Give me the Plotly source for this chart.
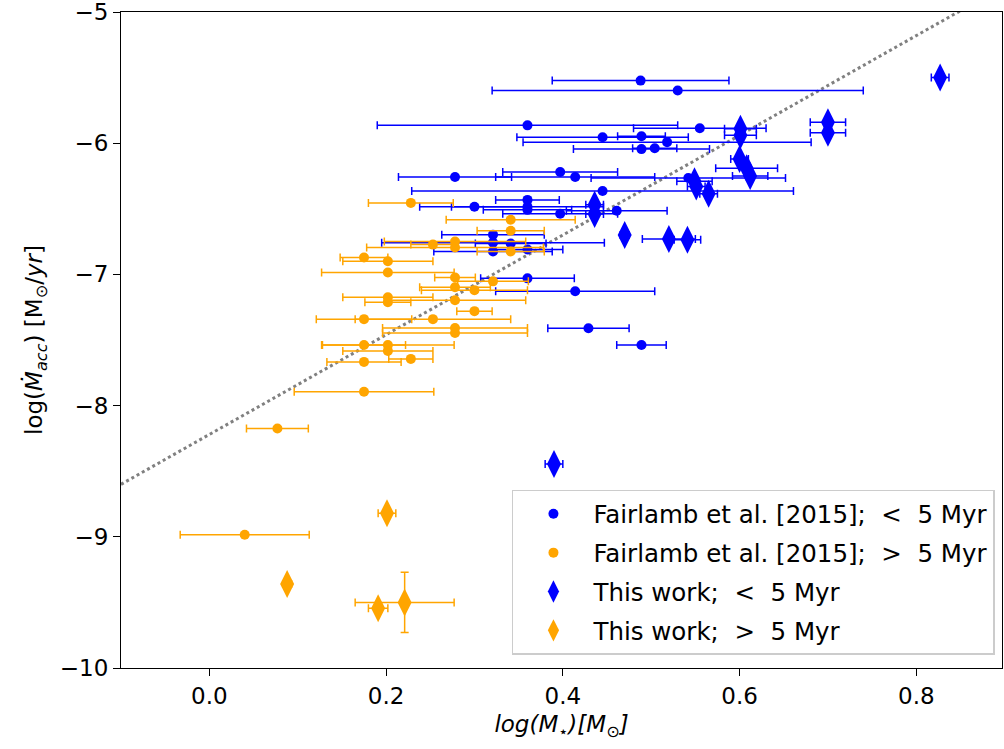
import plotly.graph_objects as go

# Fairlamb et al. [2015], < 5 Myr
fy_x = [0.488, 0.530, 0.360, 0.555, 0.445, 0.489, 0.518, 0.489, 0.504,
        0.397, 0.414, 0.542, 0.278, 0.445, 0.360, 0.300, 0.360, 0.360,
        0.397, 0.461, 0.321, 0.321, 0.341, 0.321, 0.360, 0.360, 0.414,
        0.429, 0.489]
fy_y = [-5.523, -5.598, -5.864, -5.886, -5.955, -5.947, -5.992, -6.045, -6.038,
        -6.220, -6.258, -6.265, -6.258, -6.364, -6.432, -6.485, -6.485, -6.508,
        -6.538, -6.515, -6.697, -6.758, -6.765, -6.826, -6.810, -7.030, -7.129,
        -7.410, -7.538]
fy_xerr = [0.100, 0.210, 0.170, 0.075, 0.097, 0.027, 0.163, 0.077, 0.025,
           0.065, 0.090, 0.110, 0.064, 0.216, 0.036, 0.062, 0.086, 0.050,
           0.065, 0.057, 0.058, 0.126, 0.040, 0.067, 0.040, 0.053, 0.090,
           0.046, 0.028]

# Fairlamb et al. [2015], > 5 Myr
fo_x = [0.228, 0.253, 0.278, 0.278, 0.341, 0.341, 0.341, 0.175, 0.202, 0.202,
        0.278, 0.321, 0.278, 0.300, 0.202, 0.202, 0.278, 0.300, 0.175, 0.253,
        0.278, 0.278, 0.175, 0.202, 0.202, 0.228, 0.175, 0.175, 0.077, 0.040]
fo_y = [-6.455, -6.773, -6.750, -6.795, -6.583, -6.667, -6.826, -6.871, -6.900, -6.985,
        -7.023, -7.053, -7.098, -7.120, -7.174, -7.212, -7.197, -7.280, -7.341, -7.341,
        -7.409, -7.447, -7.538, -7.538, -7.583, -7.644, -7.667, -7.894, -8.174, -8.985]
fo_xerr = [0.048, 0.025, 0.080, 0.100, 0.073, 0.038, 0.038, 0.027, 0.051, 0.075,
           0.023, 0.040, 0.040, 0.060, 0.051, 0.026, 0.080, 0.020, 0.054, 0.088,
           0.082, 0.082, 0.047, 0.075, 0.051, 0.025, 0.042, 0.079, 0.035, 0.073]

# This work, < 5 Myr
ty_x = [0.827, 0.601, 0.601, 0.700, 0.700, 0.600, 0.608, 0.612, 0.549, 0.551,
        0.565, 0.436, 0.436, 0.470, 0.520, 0.541, 0.390]
ty_y = [-5.50, -5.89, -5.94, -5.84, -5.92, -6.12, -6.19, -6.25, -6.29, -6.33,
        -6.385, -6.47, -6.54, -6.70, -6.73, -6.735, -8.445]
ty_xerr = [0.010, 0.018, 0.018, 0.020, 0.020, 0.010, 0.035, 0.020, 0.020, 0.010,
           0.010, 0.010, 0.010, 0.005, 0.030, 0.015, 0.010]
ty_yerr = [0.03, 0.02, 0.02, 0.02, 0.02, 0.02, 0.02, 0.02, 0.02, 0.02,
           0.02, 0.03, 0.03, 0.02, 0.02, 0.02, 0.03]

# This work, > 5 Myr
to_x = [0.201, 0.088, 0.191, 0.221]
to_y = [-8.82, -9.36, -9.545, -9.50]
to_xerr = [0.010, 0.005, 0.011, 0.056]
to_yerr = [0.03, 0.03, 0.03, 0.23]

# dotted relation
fit_slope = 3.8
fit_intercept = -8.22
fit_x = [-0.1, 0.9]
fit_y = [fit_slope * v + fit_intercept for v in fit_x]

BLUE = "#0000ff"
ORANGE = "#ffa500"
FONT = "DejaVu Sans"

fig = go.Figure()

fig.add_trace(go.Scatter(x=fit_x, y=fit_y, mode="lines",
                         line=dict(color="gray", width=3, dash="dot"),
                         showlegend=False, hoverinfo="skip"))

def ex(arr, color):
    return dict(type="data", array=arr, color=color, thickness=1.5, width=4, visible=True)

fig.add_trace(go.Scatter(x=fy_x, y=fy_y, mode="markers", legendgroup="a",
                         name="Fairlamb et al. [2015];  <  5 Myr",
                         marker=dict(color=BLUE, size=10, symbol="circle"),
                         error_x=ex(fy_xerr, BLUE)))
fig.add_trace(go.Scatter(x=fo_x, y=fo_y, mode="markers", legendgroup="b",
                         name="Fairlamb et al. [2015];  >  5 Myr",
                         marker=dict(color=ORANGE, size=10, symbol="circle"),
                         error_x=ex(fo_xerr, ORANGE)))
fig.add_trace(go.Scatter(x=ty_x, y=ty_y, mode="markers", legendgroup="c",
                         name="This work;  <  5 Myr",
                         marker=dict(color=BLUE, size=20, symbol="diamond-tall"),
                         error_x=ex(ty_xerr, BLUE), error_y=ex(ty_yerr, BLUE)))
fig.add_trace(go.Scatter(x=to_x, y=to_y, mode="markers", legendgroup="d",
                         name="This work;  >  5 Myr",
                         marker=dict(color=ORANGE, size=20, symbol="diamond-tall"),
                         error_x=ex(to_xerr, ORANGE), error_y=ex(to_yerr, ORANGE)))

x_ticks = [0.0, 0.2, 0.4, 0.6, 0.8]
y_ticks = [-10, -9, -8, -7, -6, -5]

fig.update_layout(
    width=1004, height=749,
    margin=dict(l=121, r=2, t=12, b=81, autoexpand=False),
    paper_bgcolor="white", plot_bgcolor="white",
    font=dict(family=FONT, size=23, color="black"),
    legend=dict(x=0.992, y=0.02, xanchor="right", yanchor="bottom",
                bordercolor="#cccccc", borderwidth=1.5, bgcolor="rgba(255,255,255,0.8)",
                font=dict(family=FONT, size=24.5), itemsizing="trace",
                traceorder="grouped", tracegroupgap=4, itemwidth=70),
    showlegend=True,
)
fig.update_xaxes(range=[-0.1, 0.897], tickvals=x_ticks,
                 ticktext=[f"{v:.1f}" for v in x_ticks],
                 tickfont=dict(family=FONT, size=23), automargin=False,
                 showgrid=False, zeroline=False, showline=True, linecolor="black",
                 linewidth=1.2, mirror=True, ticks="outside", ticklen=7, tickcolor="black",
                 ticklabeloverflow="allow",
                 title=dict(text="<i>log(M<sub>⋆</sub>)[M<sub>⊙</sub>]</i>",
                            font=dict(family=FONT, size=23), standoff=8))
fig.update_yaxes(range=[-10, -5], tickvals=y_ticks,
                 ticktext=[str(v).replace("-", "\u2212") for v in y_ticks],
                 tickfont=dict(family=FONT, size=23), automargin=False,
                 showgrid=False, zeroline=False, showline=True, linecolor="black",
                 linewidth=1.2, mirror=True, ticks="outside", ticklen=7, tickcolor="black",
                 ticklabeloverflow="allow",
                 title=dict(text="log(<i>Ṁ<sub>acc</sub></i>) [M<sub>⊙</sub>/<i>yr</i>]",
                            font=dict(family=FONT, size=23), standoff=10))

fig.write_html("out.html")
